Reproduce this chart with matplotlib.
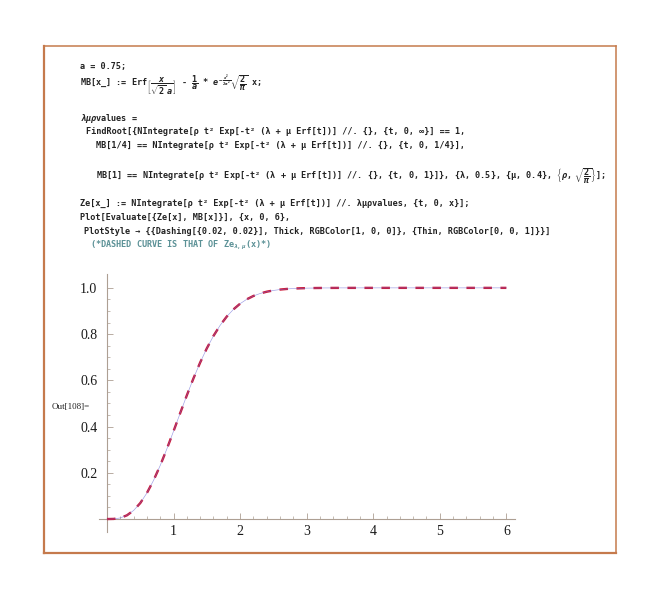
import matplotlib
matplotlib.use("Agg")
import matplotlib.pyplot as plt
from matplotlib.lines import Line2D
from matplotlib.ticker import FixedLocator, NullFormatter

plt.rcParams['mathtext.fontset'] = 'custom'
plt.rcParams['mathtext.rm'] = 'DejaVu Sans Mono:bold'
plt.rcParams['mathtext.it'] = 'DejaVu Sans Mono:italic:bold'
plt.rcParams['mathtext.bf'] = 'DejaVu Sans Mono:bold'

# values (dashed Ze and thin MB overlap)
x_vals = [0.0, 0.1, 0.2, 0.3, 0.4, 0.5, 0.6, 0.7, 0.8, 0.9, 1.0,
          1.1, 1.2, 1.3, 1.4, 1.5, 1.6, 1.7, 1.8, 1.9, 2.0,
          2.1, 2.2, 2.3, 2.4, 2.5, 2.6, 2.7, 2.8, 2.9, 3.0,
          3.2, 3.5, 4.0, 5.0, 6.0]
ze_vals = [0.0, 0.0006, 0.0049, 0.0162, 0.0371, 0.0691, 0.1128, 0.1676, 0.2320, 0.3038, 0.3802,
           0.4584, 0.5354, 0.6091, 0.6772, 0.7385, 0.7922, 0.8380, 0.8761, 0.9071, 0.9316,
           0.9506, 0.9650, 0.9756, 0.9834, 0.9889, 0.9927, 0.9953, 0.9970, 0.9981, 0.9989,
           0.9996, 0.9999, 1.0, 1.0, 1.0]
mb_vals = list(ze_vals)

x_ticks = [1, 2, 3, 4, 5, 6]
y_ticks = [0.2, 0.4, 0.6, 0.8, 1.0]

code_lines = [
    (80, 66, "a = 0.75;", '#222222'),
    (80, 85, r"MB[x_] := Erf$\left[\dfrac{x}{\sqrt{2}\ a}\right]$ - $\dfrac{1}{a}$ * $e^{-\frac{x^2}{2a^2}}\sqrt{\dfrac{2}{\pi}}$ x;", '#222222'),
    (80, 118, r"$\lambda\mu\rho$values =", '#222222'),
    (86, 132, "FindRoot[{NIntegrate[ρ t² Exp[-t² (λ + μ Erf[t])] //. {}, {t, 0, ∞}] == 1,", '#222222'),
    (96, 146, "MB[1/4] == NIntegrate[ρ t² Exp[-t² (λ + μ Erf[t])] //. {}, {t, 0, 1/4}],", '#222222'),
    (96, 176, r"MB[1] == NIntegrate[ρ t² Exp[-t² (λ + μ Erf[t])] //. {}, {t, 0, 1}]}, {λ, 0.5}, {μ, 0.4}, $\left\{\rho,\ \sqrt{\dfrac{2}{\pi}}\right\}$];", '#222222'),
    (80, 203, "Ze[x_] := NIntegrate[ρ t² Exp[-t² (λ + μ Erf[t])] //. λμρvalues, {t, 0, x}];", '#222222'),
    (80, 217, "Plot[Evaluate[{Ze[x], MB[x]}], {x, 0, 6},", '#222222'),
    (84, 231, "PlotStyle → {{Dashing[{0.02, 0.02}], Thick, RGBColor[1, 0, 0]}, {Thin, RGBColor[0, 0, 1]}}]", '#222222'),
    (90, 245, r"(*DASHED CURVE IS THAT OF Ze$_{\lambda,\mu}$(x)*)", '#5b9196'),
]

W, H = 660, 601
fig = plt.figure(figsize=(6.6, 6.01), dpi=100)
fig.patch.set_facecolor('white')

# notebook cell frame
frame_col = '#c57a4c'
fig.add_artist(Line2D([44 / W, 44 / W], [1 - 46 / H, 1 - 553 / H], transform=fig.transFigure, color=frame_col, lw=1.6))
fig.add_artist(Line2D([44 / W, 616 / W], [1 - 553 / H, 1 - 553 / H], transform=fig.transFigure, color=frame_col, lw=1.6))
fig.add_artist(Line2D([44 / W, 616 / W], [1 - 46 / H, 1 - 46 / H], transform=fig.transFigure, color=frame_col, lw=1.1))
fig.add_artist(Line2D([616 / W, 616 / W], [1 - 46 / H, 1 - 553 / H], transform=fig.transFigure, color=frame_col, lw=1.1))

for px, py, s, c in code_lines:
    fig.text(px / W, 1 - py / H, s, fontsize=6.1, family='DejaVu Sans Mono',
             fontweight='bold', color=c, va='center', ha='left')

fig.text(52 / W, 1 - 407 / H, "Out[108]=", fontsize=6.5, family='Liberation Serif',
         color='#222222', va='center', ha='left')

# plot
ax = fig.add_axes([99 / W, 1 - 532 / H, (515 - 99) / W, (532 - 274) / H])
ax.set_xlim(-0.12, 6.13)
ax.set_ylim(-0.056, 1.06)
ax.patch.set_alpha(0)

ax.plot(x_vals, ze_vals, color='#cc1836', lw=1.7, dashes=(3.6, 3.6), zorder=3)
ax.plot(x_vals, mb_vals, color='#6f6fd8', lw=0.45, alpha=0.7, zorder=4)

axis_col = '#ad9f93'
for side in ['top', 'right']:
    ax.spines[side].set_visible(False)
for side in ['left', 'bottom']:
    ax.spines[side].set_position(('data', 0))
    ax.spines[side].set_color(axis_col)
    ax.spines[side].set_linewidth(0.8)

ax.set_xticks(x_ticks)
ax.set_xticklabels([str(v) for v in x_ticks])
ax.set_yticks(y_ticks)
ax.set_yticklabels(['%.1f' % v for v in y_ticks])
ax.xaxis.set_minor_locator(FixedLocator([i * 0.2 for i in range(1, 31) if i % 5]))
ax.yaxis.set_minor_locator(FixedLocator([i * 0.05 for i in range(1, 21) if i % 4]))
ax.xaxis.set_minor_formatter(NullFormatter())
ax.yaxis.set_minor_formatter(NullFormatter())

ax.tick_params(which='major', direction='in', length=4, width=0.6, color=axis_col,
               labelsize=10, labelcolor='#1a1a1a')
ax.tick_params(which='minor', direction='in', length=2.2, width=0.5, color=axis_col)
ax.tick_params(axis='x', which='major', pad=4)
ax.tick_params(axis='y', which='major', pad=7)
for lab in ax.get_xticklabels() + ax.get_yticklabels():
    lab.set_family('Liberation Serif')

fig.savefig('out.png', dpi=100, facecolor='white')
